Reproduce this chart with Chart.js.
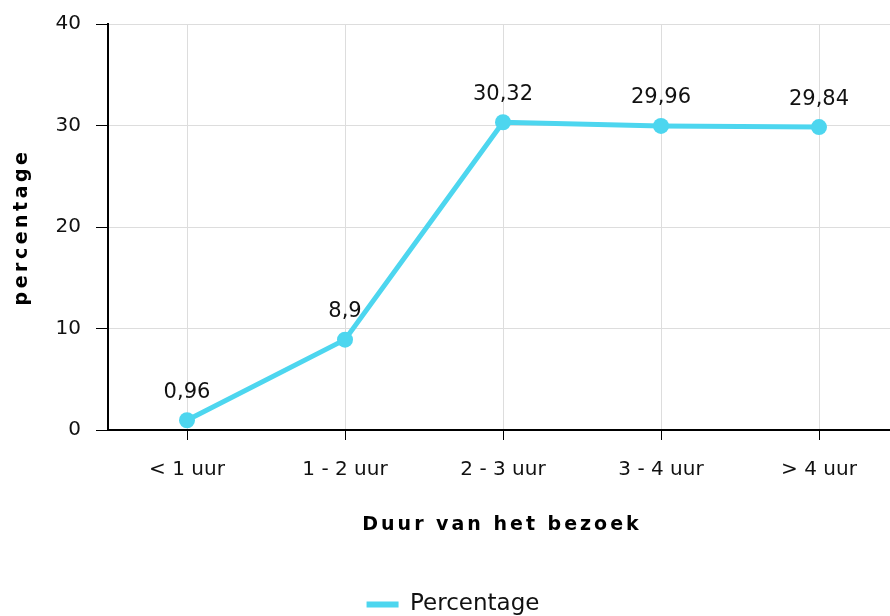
<!DOCTYPE html>
<html>
<head>
<meta charset="utf-8">
<script src="https://cdn.jsdelivr.net/npm/chart.js@4/dist/chart.umd.min.js"></script>
<style>
  html, body { margin: 0; padding: 0; background: #fff; overflow: hidden; }
</style>
</head>
<body>
<canvas id="chart" width="906" height="616"></canvas>
<script>
/* ---------- data ---------- */
const categories = ["< 1 uur", "1 - 2 uur", "2 - 3 uur", "3 - 4 uur", "> 4 uur"];
const percentages = [0.96, 8.9, 30.32, 29.96, 29.84];
const yTicks = [0, 10, 20, 30, 40];

const xTitle = "Duur van het bezoek";
const yTitle = "percentage";

const lineColor = "#4dd6ef";
const fontFamily = "'DejaVu Sans', sans-serif";

/* value labels above points + spaced axis titles (drawn by hand) */
const extras = {
    id: "extras",
    afterDatasetsDraw(chart) {
        const ctx = chart.ctx;
        const meta = chart.getDatasetMeta(0);
        ctx.save();
        ctx.font = "21px " + fontFamily;
        ctx.fillStyle = "#111";
        ctx.textAlign = "center";
        ctx.textBaseline = "middle";
        meta.data.forEach((pt, i) => {
            const txt = String(percentages[i]).replace(".", ",");
            ctx.fillText(txt, pt.x, pt.y - 28);
        });
        ctx.restore();
    },
    afterDraw(chart) {
        const ctx = chart.ctx;
        const area = chart.chartArea;
        ctx.save();
        ctx.font = "bold 19px " + fontFamily;
        ctx.fillStyle = "#000";
        ctx.letterSpacing = "3px";
        ctx.textAlign = "center";
        ctx.textBaseline = "middle";
        ctx.fillText(xTitle, (area.left + 890) / 2 + 3, area.bottom + 95);
        ctx.letterSpacing = "3.5px";
        ctx.translate(22, (area.top + area.bottom) / 2);
        ctx.rotate(-Math.PI / 2);
        ctx.fillText(yTitle, 0, 0);
        ctx.restore();
    }
};

new Chart(document.getElementById("chart"), {
    type: "line",
    data: {
        labels: categories,
        datasets: [{
            label: "Percentage",
            data: percentages,
            borderColor: lineColor,
            backgroundColor: lineColor,
            borderWidth: 5,
            pointRadius: 8,
            pointHoverRadius: 8,
            pointBackgroundColor: lineColor,
            pointBorderWidth: 0,
            tension: 0
        }]
    },
    options: {
        responsive: false,
        animation: false,
        layout: { padding: { top: 24, right: 0, left: 0, bottom: -10 } },
        plugins: {
            tooltip: { enabled: false },
            legend: {
                position: "bottom",
                labels: {
                    boxWidth: 32,
                    boxHeight: 6,
                    color: "#111",
                    padding: 6,
                    font: { family: fontFamily, size: 23 },
                    generateLabels(chart) {
                        return Chart.defaults.plugins.legend.labels.generateLabels(chart)
                            .map(l => Object.assign(l, { lineWidth: 0 }));
                    }
                }
            }
        },
        scales: {
            x: {
                offset: true,
                grid: { color: "#dddddd", tickLength: 10, tickColor: "#000", offset: false },
                border: { color: "#000", width: 2 },
                ticks: { color: "#111", padding: 18, maxRotation: 0, font: { family: fontFamily, size: 20 } },
                afterFit(axis) { axis.height = 157; }
            },
            y: {
                min: 0,
                max: 40,
                afterBuildTicks(axis) { axis.ticks = yTicks.map(v => ({ value: v })); },
                grid: { color: "#dddddd", tickLength: 12, tickColor: "#000" },
                border: { color: "#000", width: 2 },
                ticks: { color: "#111", padding: 15, font: { family: fontFamily, size: 20 } },
                afterFit(axis) {
                    axis.width = 108;
                    axis.paddingTop = 0;
                    axis.paddingBottom = 0;
                }
            }
        }
    },
    plugins: [extras]
});
</script>
</body>
</html>
